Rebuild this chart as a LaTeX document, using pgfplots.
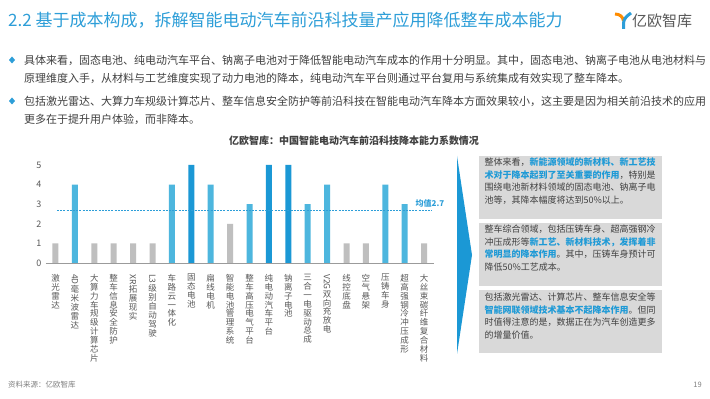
\documentclass[border=0pt]{standalone}
\usepackage{fontspec}
\setmainfont{Noto Sans CJK SC}
\usepackage{pgfplots}
\pgfplotsset{compat=1.18}
\definecolor{hdrblue}{RGB}{45,158,216}
\definecolor{txt}{RGB}{64,64,64}
\definecolor{barg}{RGB}{191,191,191}
\definecolor{barl}{RGB}{77,182,222}
\definecolor{bard}{RGB}{27,152,213}
\definecolor{boxg}{RGB}{217,217,217}
\definecolor{hl}{RGB}{30,154,214}
\definecolor{tickg}{RGB}{89,89,89}
\newcommand{\hb}[1]{\textcolor{hl}{\textbf{#1}}}
\begin{document}
\begin{tikzpicture}[x=1pt,y=1pt]
\path[use as bounding box,fill=white] (0,0) rectangle (710,399);
% header
\node[anchor=west,inner sep=0,text=hdrblue,font=\fontsize{17}{17}\selectfont] at (8,379) {2.2 基于成本构成，拆解智能电动汽车前沿科技量产应用降低整车成本能力};
% logo
\draw[line width=3pt,color=orange!90!yellow] (615,385) .. controls (620,385) and (623,382) .. (623.5,378);
\draw[line width=3pt,color=hdrblue] (631,386) .. controls (627,383) and (624,381) .. (623.5,376) -- (623.5,370);
\node[anchor=west,inner sep=0,text=tickg,font=\fontsize{15}{15}\selectfont] at (632,378) {亿欧智库};
% bullets
\foreach \yy in {339,298}{
\fill[hdrblue] (12,\yy+3.5) -- (15,\yy) -- (12,\yy-3.5) -- (9,\yy) -- cycle;}
\begin{scope}[every node/.style={anchor=west,inner sep=0,text=txt,font=\fontsize{11}{11}\selectfont}]
\node at (24,339) {具体来看，固态电池、纯电动汽车平台、钠离子电池对于降低智能电动汽车成本的作用十分明显。其中，固态电池、钠离子电池从电池材料与};
\node at (24,321) {原理维度入手，从材料与工艺维度实现了动力电池的降本，纯电动汽车平台则通过平台复用与系统集成有效实现了整车降本。};
\node at (24,298) {包括激光雷达、大算力车规级计算芯片、整车信息安全防护等前沿科技在智能电动汽车降本方面效果较小，这主要是因为相关前沿技术的应用};
\node at (24,280) {更多在于提升用户体验，而非降本。};
\end{scope}
% chart title
\node[inner sep=0,text=txt,font=\fontsize{10}{10}\selectfont\bfseries] at (354,258) {亿欧智库：中国智能电动汽车前沿科技降本能力系数情况};
% axis
\begin{axis}[at={(45.8pt,136pt)},anchor=south west,scale only axis,width=388pt,height=98pt,
 xmin=-0.5,xmax=19.5,ymin=0,ymax=5,clip=false,
 axis line style={draw=none},
 ytick={0,1,2,3,4,5},xtick={0,...,19},
 major tick length=0pt,
 /pgf/number format/assume math mode=true,
 yticklabel style={font=\fontsize{9}{9}\selectfont,text=tickg,xshift=-1pt},
 xticklabel style={font=\fontsize{8.5}{8.9}\selectfont,text=tickg,align=center,anchor=north,inner sep=0pt,yshift=-11pt},
 xticklabels={{激\\光\\雷\\达},{\rotatebox{-90}{4D}\\毫\\米\\波\\雷\\达},{大\\算\\力\\车\\规\\级\\计\\算\\芯\\片},{整\\车\\信\\息\\安\\全\\防\\护},{\rotatebox{-90}{XR}\\拓\\展\\现\\实},{\rotatebox{-90}{L3}\\级\\别\\自\\动\\驾\\驶},{车\\路\\云\\一\\体\\化},{固\\态\\电\\池},{扁\\线\\电\\机},{智\\能\\电\\池\\管\\理\\系\\统},{整\\车\\高\\压\\电\\气\\平\\台},{纯\\电\\动\\汽\\车\\平\\台},{钠\\离\\子\\电\\池},{三\\合\\一\\电\\驱\\动\\总\\成},{\rotatebox{-90}{V2G}\\双\\向\\充\\放\\电},{线\\控\\底\\盘},{空\\气\\悬\\架},{压\\铸\\车\\身},{超\\高\\强\\钢\\冷\\冲\\压\\成\\形},{大\\丝\\束\\碳\\纤\\维\\复\\合\\材\\料}},
 ybar,bar width=6pt]
\addplot[fill=barg,draw=none,bar shift=0pt] coordinates {(0,1)(2,1)(3,1)(4,1)(5,1)(9,2)(15,1)(16,1)(19,1)};
\addplot[fill=barl,draw=none,bar shift=0pt] coordinates {(1,4)(6,4)(8,4)(10,3)(13,3)(14,4)(17,4)(18,3)};
\addplot[fill=bard,draw=none,bar shift=0pt] coordinates {(7,5)(11,5)(12,5)};
\draw[tickg!60,line width=0.6pt] (axis cs:-0.5,0) -- (axis cs:19.5,0);
\addplot[sharp plot,hdrblue,line width=0.8pt,dash pattern=on 2pt off 1.2pt] coordinates {(0.08,2.7)(19.4,2.7)};
\node[anchor=south,inner sep=0,text=hdrblue,font=\fontsize{8}{8}\selectfont\bfseries] at (axis cs:19.3,2.85) {均值2.7};
\end{axis}
% triangle
\fill[bard] (457,243) -- (472,144) -- (457,45) -- cycle;
% boxes
\fill[boxg] (479,243) rectangle (662,180);
\fill[boxg] (479,176) rectangle (662,113);
\fill[boxg] (479,109) rectangle (662,46);
\begin{scope}[every node/.style={anchor=north west,inner sep=0,text=txt,align=left,font=\fontsize{9}{12.5}\selectfont}]
\node at (484.5,241) {整体来看，\hb{新能源领域的新材料、新工艺技}\\\hb{术对于降本起到了至关重要的作用}，特别是\\围绕电池新材料领域的固态电池、钠离子电\\池等，其降本幅度将达到50\%以上。};
\node at (484.5,174) {整车综合领域，包括压铸车身、超高强钢冷\\冲压成形等\hb{新工艺、新材料技术，发挥着非}\\\hb{常明显的降本作用}。其中，压铸车身预计可\\降低50\%工艺成本。};
\node at (484.5,106) {包括激光雷达、计算芯片、整车信息安全等\\\hb{智能网联领域技术基本不起降本作用}。但同\\时值得注意的是，数据正在为汽车创造更多\\的增量价值。};
\end{scope}
% footer
\node[anchor=west,inner sep=0,text=gray,font=\fontsize{7.5}{7.5}\selectfont] at (8,14) {资料来源：亿欧智库};
\node[anchor=east,inner sep=0,text=gray,font=\fontsize{7.5}{7.5}\selectfont] at (702,14) {19};
\end{tikzpicture}
\end{document}
